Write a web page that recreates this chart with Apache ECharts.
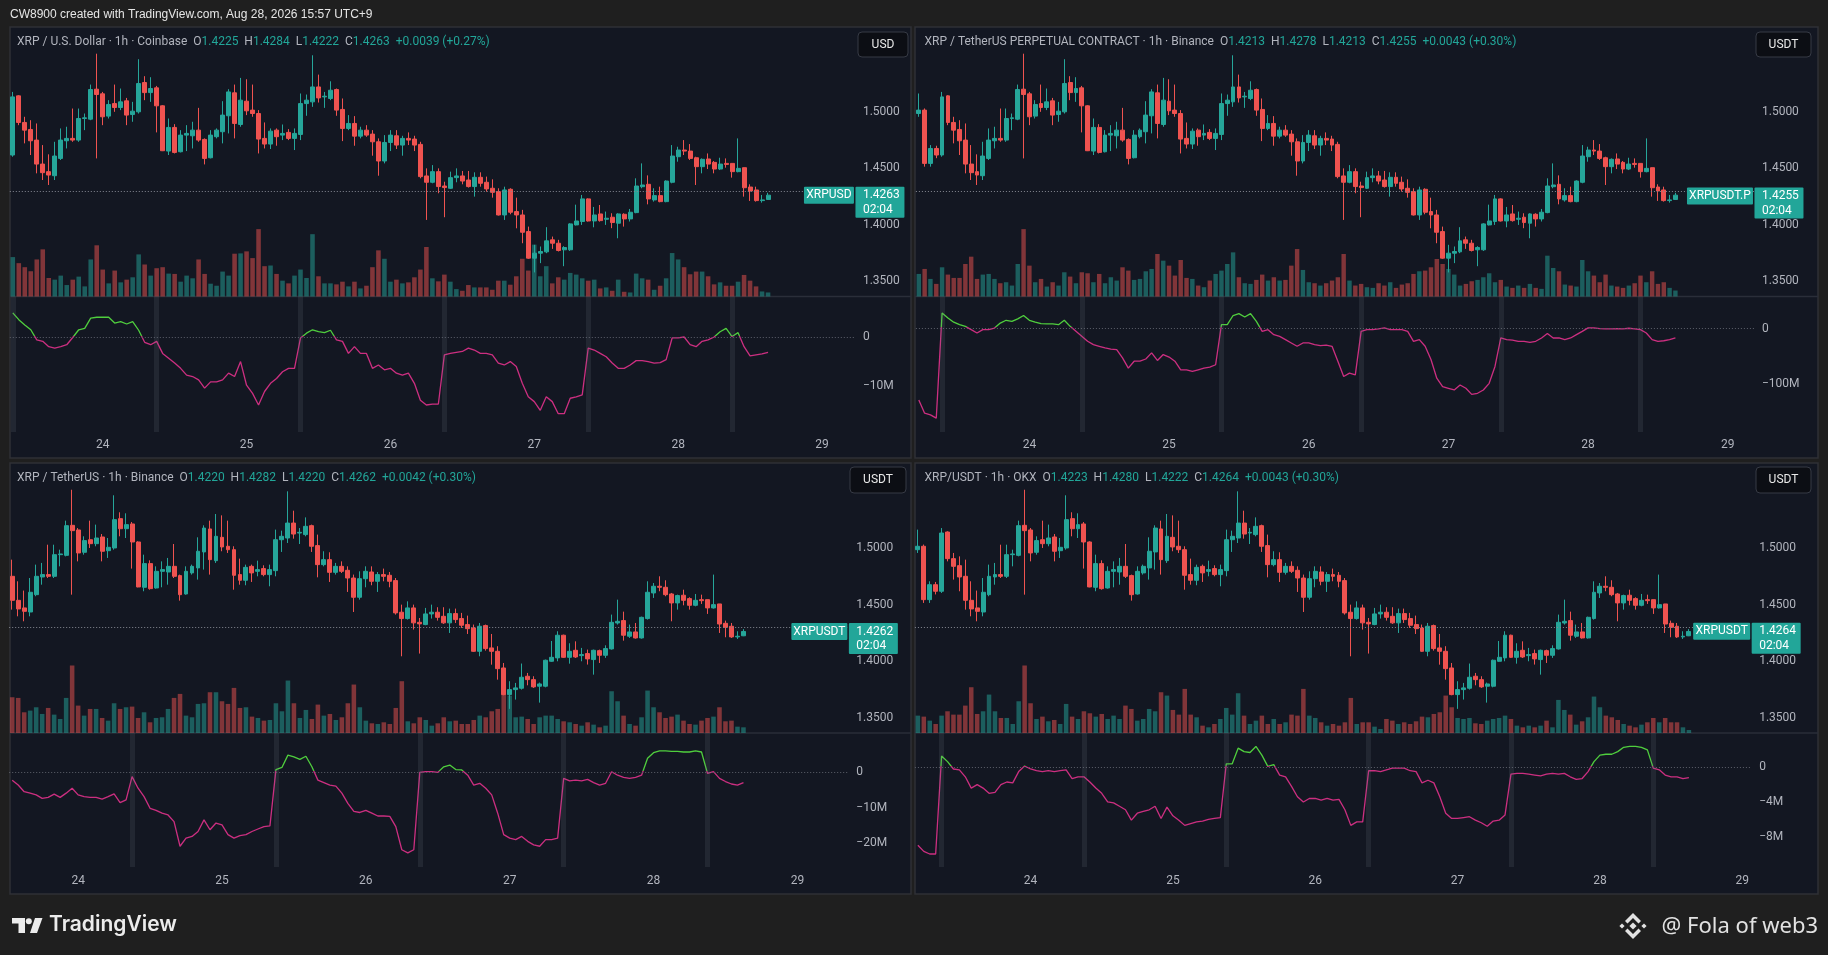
<!DOCTYPE html>
<html><head><meta charset="utf-8">
<style>html,body{margin:0;padding:0;background:#1f1f1f;overflow:hidden}#c{width:1828px;height:955px}</style>
<script src="https://cdn.jsdelivr.net/npm/echarts@6.0.0/dist/echarts.min.js"></script>
</head><body><div id="c"></div>
<script>
// ---------- DATA ----------
// hourly XRP candles [open, high, low, close] starting 2026-08-23 05:00 (UTC+9)
const ohlcStartHour = 5;
const ohlc = [
[1.4985,1.5162,1.4956,1.5015],[1.5015,1.5030,1.4515,1.4544],[1.4544,1.4706,1.4515,1.4676],[1.4676,1.4700,1.4590,1.4618],
[1.4618,1.5176,1.4603,1.5132],[1.5141,1.5147,1.4882,1.4906],[1.4906,1.4956,1.4721,1.4838],[1.4844,1.4926,1.4618,1.4744],
[1.4750,1.4897,1.4456,1.4538],[1.4538,1.4706,1.4397,1.4462],[1.4471,1.4624,1.4353,1.4441],[1.4435,1.4735,1.4397,1.4609],
[1.4588,1.4853,1.4574,1.4750],[1.4744,1.4868,1.4676,1.4765],[1.4765,1.5029,1.4735,1.4750],[1.4750,1.5029,1.4735,1.4941],
[1.4941,1.4985,1.4838,1.4947],[1.4935,1.5241,1.4926,1.5197],[1.5200,1.5514,1.4588,1.5153],[1.5159,1.5176,1.4882,1.4956],
[1.4962,1.5103,1.4941,1.5065],[1.5073,1.5241,1.5000,1.5038],[1.5038,1.5206,1.5015,1.5088],[1.5097,1.5123,1.4882,1.4971],
[1.4976,1.5088,1.4912,1.5006],[1.5000,1.5465,1.4985,1.5250],[1.5259,1.5315,1.5103,1.5170],[1.5170,1.5306,1.5088,1.5206],
[1.5212,1.5229,1.4818,1.5053],[1.5053,1.5059,1.4653,1.4656],[1.4653,1.4941,1.4618,1.4862],[1.4862,1.4891,1.4632,1.4641],
[1.4647,1.4838,1.4641,1.4794],[1.4794,1.4882,1.4653,1.4809],[1.4788,1.4912,1.4676,1.4838],[1.4838,1.5035,1.4735,1.4750],
[1.4756,1.4765,1.4535,1.4588],[1.4594,1.4838,1.4588,1.4794],[1.4780,1.4853,1.4765,1.4838],[1.4824,1.5094,1.4721,1.4971],
[1.4965,1.5200,1.4809,1.5176],[1.5168,1.5241,1.4765,1.4897],[1.4888,1.5300,1.4868,1.5103],[1.5094,1.5288,1.4971,1.5009],
[1.5015,1.5241,1.4956,1.4985],[1.4985,1.5015,1.4632,1.4759],[1.4765,1.4906,1.4676,1.4715],[1.4715,1.4853,1.4671,1.4829],
[1.4838,1.4853,1.4700,1.4780],[1.4794,1.4888,1.4750,1.4809],[1.4818,1.4847,1.4750,1.4765],[1.4765,1.4853,1.4662,1.4809],
[1.4800,1.5162,1.4750,1.5073],[1.5073,1.5153,1.4965,1.5103],[1.5088,1.5500,1.5044,1.5220],[1.5220,1.5329,1.5082,1.5123],
[1.5132,1.5176,1.5035,1.5138],[1.5118,1.5270,1.5103,1.5191],[1.5197,1.5206,1.4965,1.5015],[1.5021,1.5118,1.4741,1.4853],
[1.4853,1.4971,1.4838,1.4897],[1.4897,1.4962,1.4700,1.4785],[1.4785,1.4868,1.4765,1.4838],[1.4838,1.4882,1.4779,1.4794],
[1.4803,1.4838,1.4612,1.4735],[1.4735,1.4765,1.4435,1.4565],[1.4565,1.4794,1.4544,1.4729],[1.4729,1.4838,1.4653,1.4794],
[1.4788,1.4838,1.4671,1.4706],[1.4706,1.4788,1.4612,1.4765],[1.4765,1.4818,1.4706,1.4750],[1.4759,1.4788,1.4653,1.4706],
[1.4712,1.4735,1.4412,1.4427],[1.4433,1.4500,1.4044,1.4377],[1.4377,1.4529,1.4368,1.4471],[1.4471,1.4500,1.4280,1.4339],
[1.4344,1.4382,1.4068,1.4330],[1.4324,1.4471,1.4318,1.4418],[1.4418,1.4500,1.4377,1.4433],[1.4433,1.4477,1.4359,1.4388],
[1.4397,1.4477,1.4330,1.4339],[1.4339,1.4465,1.4250,1.4421],[1.4421,1.4465,1.4338,1.4368],[1.4377,1.4427,1.4294,1.4318],
[1.4324,1.4403,1.4241,1.4288],[1.4294,1.4324,1.4083,1.4088],[1.4088,1.4338,1.4044,1.4309],[1.4315,1.4324,1.4094,1.4112],
[1.4118,1.4241,1.3970,1.4088],[1.4088,1.4133,1.3838,1.3935],[1.3941,1.3985,1.3700,1.3706],[1.3706,1.3824,1.3580,1.3750],
[1.3750,1.3809,1.3662,1.3765],[1.3762,1.3980,1.3750,1.3859],[1.3868,1.3897,1.3788,1.3838],[1.3838,1.3868,1.3765,1.3774],
[1.3780,1.3812,1.3635,1.3800],[1.3780,1.4015,1.3770,1.4009],[1.4000,1.4179,1.3995,1.4035],[1.4030,1.4265,1.4000,1.4230],
[1.4230,1.4235,1.4030,1.4035],[1.4035,1.4159,1.3979,1.4088],[1.4097,1.4176,1.4029,1.4038],[1.4050,1.4118,1.4000,1.4059],
[1.4068,1.4103,1.3971,1.4021],[1.4015,1.4103,1.3882,1.4097],[1.4094,1.4103,1.3985,1.4053],[1.4053,1.4141,1.4030,1.4112],
[1.4109,1.4412,1.4103,1.4344],[1.4338,1.4544,1.4324,1.4353],[1.4359,1.4438,1.4182,1.4230],[1.4221,1.4324,1.4206,1.4259],
[1.4259,1.4338,1.4200,1.4206],[1.4206,1.4394,1.4200,1.4388],[1.4377,1.4706,1.4368,1.4609],[1.4603,1.4691,1.4559,1.4662],
[1.4662,1.4750,1.4618,1.4653],[1.4653,1.4715,1.4574,1.4588],[1.4594,1.4603,1.4353,1.4515],[1.4515,1.4588,1.4456,1.4580],
[1.4583,1.4632,1.4494,1.4538],[1.4553,1.4565,1.4456,1.4494],[1.4494,1.4594,1.4485,1.4538],[1.4544,1.4588,1.4506,1.4535],
[1.4544,1.4544,1.4418,1.4471],[1.4471,1.4765,1.4465,1.4500],[1.4506,1.4506,1.4250,1.4329],[1.4335,1.4359,1.4212,1.4300],
[1.4309,1.4338,1.4206,1.4215],[1.4215,1.4265,1.4197,1.4221],[1.4225,1.4284,1.4222,1.4263]
];
// first bar hour (on Aug 23) of each panel
const firstHour = [9, 5, 13, 5];
// volumes per panel (relative units)
const vol1 = [117,99,87,75,110,140,55,50,62,34,50,59,30,110,152,80,39,77,42,50,57,125,95,62,84,87,68,67,44,62,54,110,67,38,32,74,62,127,128,134,114,200,90,92,67,47,39,62,80,55,185,60,39,39,36,44,30,44,24,32,87,137,112,44,50,39,42,57,80,147,54,45,65,44,22,17,34,27,27,27,20,47,47,35,60,112,77,154,60,90,39,57,50,70,65,54,47,50,24,27,17,50,14,12,68,54,50,20,32,54,129,110,87,66,74,74,60,36,42,32,32,44,64,47,30,15,12];
const vol2 = [68,83,53,38,88,66,56,56,98,120,53,66,68,53,40,43,33,98,203,93,43,53,30,43,33,73,60,40,73,70,43,68,40,58,48,88,78,50,53,76,83,128,108,93,63,110,56,53,33,28,48,68,78,98,133,58,40,38,50,66,48,58,48,50,93,143,80,43,40,33,40,48,58,128,48,33,38,28,26,40,33,43,26,36,40,68,76,78,88,113,98,83,66,33,38,46,50,58,70,43,50,30,26,33,26,38,26,23,123,86,76,36,33,30,110,76,63,43,66,33,30,26,33,40,63,43,76,38,43,26,18];
const vol3 = [107,105,62,67,77,57,75,55,42,105,202,82,52,72,72,45,37,89,72,77,79,45,62,32,45,47,72,105,117,52,47,87,89,122,122,95,87,135,75,77,49,45,37,39,89,65,157,89,45,69,42,85,52,57,39,47,89,145,77,37,29,27,32,27,75,155,35,29,47,39,22,29,47,35,37,27,27,39,52,47,65,72,129,112,47,49,42,27,47,52,52,42,35,32,27,22,32,25,17,22,125,95,52,27,22,47,127,77,62,45,49,55,37,27,25,37,45,49,77,35,37,19,17];
const vol4 = [52,49,37,27,52,65,55,55,82,137,57,65,115,65,45,45,27,95,202,89,42,49,35,39,27,87,49,42,65,59,49,57,42,52,42,82,72,37,42,72,65,122,112,69,55,132,55,47,22,17,27,42,75,55,119,52,27,37,52,27,42,27,32,55,52,132,52,45,32,22,27,22,32,105,27,32,32,19,12,42,37,27,32,27,35,49,47,57,62,112,77,45,42,45,29,27,37,42,45,52,42,22,17,22,17,22,37,17,99,69,55,25,35,47,109,77,52,47,39,27,22,17,25,32,45,32,45,32,32,17,9];
// session cumulative volume delta per panel (millions)
const cvd1 = [5.1,3.7,2.6,1.6,-0.5,-0.8,-1.9,-2.2,-1.9,-1.5,0,1.6,1.9,4.0,4.2,4.2,4.2,3.0,3.3,2.8,3.3,1.5,-1.0,-1.5,-0.8,-3.3,-4.3,-5.3,-6.4,-7.8,-8.1,-8.8,-10.5,-9.2,-9.2,-8.8,-7.4,-8.1,-5.0,-9.9,-11.6,-14.0,-11.2,-9.5,-8.5,-7.1,-6.4,-6.4,-0.1,0.9,1.6,1.2,1.0,1.5,-0.5,-0.8,-3.3,-1.9,-3.3,-3.3,-6.4,-5.7,-6.7,-6.4,-7.4,-7.8,-7.4,-9.5,-13.0,-14.0,-13.8,-13.8,-3.6,-3.3,-3.1,-2.9,-2.2,-2.6,-3.3,-3.3,-3.6,-5.3,-5.7,-5.0,-6.0,-9.5,-12.3,-13.3,-15.1,-12.3,-13.3,-15.8,-15.8,-12.6,-12.3,-11.9,-2.2,-2.6,-3.3,-4.0,-5.3,-6.4,-6.4,-5.7,-4.8,-4.8,-5.0,-5.3,-5.2,-4.6,-0.1,-0.1,0.1,-1.5,-1.9,-0.8,-0.5,0.1,1.2,1.9,0.2,1.0,-1.9,-3.8,-3.6,-3.4,-3.1];
const cvd2 = [-129,-153,-156,-162,28,19,11.5,7,4,-2,-8,-2,-2,1,10,15,13,17.6,23.6,15,11.5,9,8.5,8.5,7,15,4,-5,-14,-23,-29,-32,-35,-37,-38,-53,-71.5,-59,-59,-55,-44,-57.6,-47,-51.5,-59,-74.5,-74.5,-77.6,-74.5,-71.5,-69.7,-65.4,7,7,23.6,27,21,27,13,-5,-2,-11,-14,-20,-26,-32,-26,-26,-29,-31,-30,-32,-59,-86.7,-80.6,-83.6,-5,-2,-2,-0.6,1.2,-2,-2,-2,-5,-23,-20,-32,-56,-89.7,-105,-108,-111,-102,-108,-119,-117,-111,-99,-68.5,-17,-20,-21,-23,-23,-25,-23,-17,-9,-17,-17,-20,-17,-11,-5,1.2,1.2,0,-0.6,-0.6,0,-0.6,0.6,-0.6,-2,-8,-20,-23,-22,-20,-17];
const cvd3 = [-2.2,-3.6,-5.5,-5.9,-6.4,-7.4,-7.1,-6.2,-7.1,-5.9,-4.5,-6.4,-6.9,-7.1,-7.1,-7.6,-6.9,-6.1,-8.6,-7.8,-1.2,-4.5,-6.9,-10.2,-10.8,-11.6,-12.1,-14.0,-21.0,-18.7,-18.2,-16.8,-13.5,-16.3,-14.4,-14.9,-17.7,-18.7,-18.0,-17.7,-16.8,-16.1,-15.4,-15.2,0.8,1.4,4.9,4.4,3.7,4.6,1.6,-2.2,-2.9,-3.6,-3.9,-5.9,-8.8,-11.1,-11.4,-10.8,-11.6,-12.4,-12.4,-12.5,-15.4,-22.0,-22.9,-22.0,0,0.2,0.2,0,1.6,2.1,0.8,0.7,-0.8,-3.6,-3.1,-4.5,-6.4,-11.6,-17.7,-18.7,-19.1,-18.2,-19.6,-20.6,-21.0,-19.1,-19.1,-18.7,-1.7,-2.4,-2.2,-2.4,-2.0,-2.9,-3.6,-3.1,0.2,-0.8,-1.4,-1.7,-1.4,-0.8,4.0,5.6,6.1,6.1,6.0,6.0,5.8,5.8,6.1,5.8,-0.3,0.2,-1.7,-2.6,-3.3,-3.6,-2.9];
const cvd4 = [-9.0,-9.7,-10.0,-10.0,1.3,0.65,-0.2,-0.3,-1.1,-2.4,-2.0,-2.4,-3.0,-2.9,-2.0,-1.7,-1.8,-0.5,0.15,-0.2,-0.4,-0.5,-0.4,-0.5,-0.4,-0.3,-1.3,-1.1,-1.1,-1.7,-2.4,-3.0,-4.0,-4.1,-4.5,-4.9,-6.1,-5.3,-5.1,-4.9,-4.5,-5.9,-4.6,-5.6,-6.1,-6.7,-6.5,-6.3,-6.2,-6.0,-5.9,-5.8,0.4,0.4,2.2,1.8,1.7,2.4,1.4,0.1,0.3,-0.9,-1.1,-2.2,-3.4,-4.0,-3.6,-3.6,-3.8,-3.6,-3.8,-3.7,-4.9,-6.7,-6.3,-6.3,-0.4,-0.4,-0.5,-0.3,-0.1,-0.1,-0.1,-0.4,-0.5,-1.8,-1.5,-1.8,-3.4,-5.3,-5.9,-5.9,-5.8,-5.7,-6.1,-6.4,-6.8,-6.2,-6.1,-5.5,-0.8,-0.7,-0.7,-0.8,-0.9,-1.0,-0.8,-0.7,-0.8,-0.7,-1.1,-1.4,-1.3,-0.5,0.65,1.4,1.5,1.5,1.8,2.3,2.4,2.4,2.3,2.0,-0.1,-0.3,-0.9,-1.1,-1.1,-1.3,-1.2];
const vols = [vol1, vol2, vol3, vol4];
const cvds = [cvd1, cvd2, cvd3, cvd4];
const priceTicks = [1.35, 1.40, 1.45, 1.50];
const cvdTicks = [[0,-10],[0,-100],[0,-10,-20],[0,-4,-8]];
const lastClose = [1.4263, 1.4255, 1.4262, 1.4264];
const headers = [
  {name:'XRP / U.S. Dollar · 1h · Coinbase', o:'1.4225', h:'1.4284', l:'1.4222', c:'1.4263', chg:'+0.0039 (+0.27%)', ccy:'USD', sym:'XRPUSD', timer:'02:04'},
  {name:'XRP / TetherUS PERPETUAL CONTRACT · 1h · Binance', o:'1.4213', h:'1.4278', l:'1.4213', c:'1.4255', chg:'+0.0043 (+0.30%)', ccy:'USDT', sym:'XRPUSDT.P', timer:'02:04'},
  {name:'XRP / TetherUS · 1h · Binance', o:'1.4220', h:'1.4282', l:'1.4220', c:'1.4262', chg:'+0.0042 (+0.30%)', ccy:'USDT', sym:'XRPUSDT', timer:'02:04'},
  {name:'XRP/USDT · 1h · OKX', o:'1.4223', h:'1.4280', l:'1.4222', c:'1.4264', chg:'+0.0043 (+0.30%)', ccy:'USDT', sym:'XRPUSDT', timer:'02:04'}
];
const pageTitle = 'CW8900 created with TradingView.com, Aug 28, 2026 15:57 UTC+9';
const brandLeft = 'TradingView';
const brandRight = '@ Fola of web3';

// ---------- LAYOUT ----------
const L = [
  {panel:[10,27,901,431], left:9.8,  catW:5.994, nCat:141, pTop:27,  pH:269.5, iTop:296.5, iH:135.5, cMin:-19.6, cMax:8.5,  symW:50, ccyBox:[858,32,50,25],  hx:17,    lblMargin:7},
  {panel:[915,27,903,431],left:915.9,catW:5.82,  nCat:144, pTop:27,  pH:269.5, iTop:296.5, iH:135.5, cMin:-187,  cMax:58,   symW:66, ccyBox:[1756,32,55,25], hx:924.5, lblMargin:7},
  {panel:[10,463,901,431],left:9.2,  catW:5.994, nCat:140, pTop:463, pH:270,   iTop:733,   iH:134,   cMin:-26.9, cMax:11.2, symW:56, ccyBox:[850,467,56,26], hx:17,    lblMargin:8},
  {panel:[915,463,903,431],left:914.9,catW:5.931,nCat:141, pTop:463, pH:270,   iTop:733,   iH:134,   cMin:-11.5, cMax:3.95, symW:57, ccyBox:[1756,467,55,26],hx:924.5, lblMargin:8}
];
const priceMin = 1.3367, priceMax = 1.5750;
const UP='#26a69a', DN='#ef5350', UPV='rgba(38,166,154,0.5)', DNV='rgba(239,83,80,0.5)';
const GREEN='#4fce3d', PINK='#cc2e80', TEAL='#22a699', AXC='#b2b5be', FONT='Roboto, "Liberation Sans", sans-serif';

function cats(p){
  const out=[];
  for(let k=0;k<L[p].nCat;k++){
    const h=firstHour[p]+k, d=23+Math.floor(h/24), hr=h%24;
    out.push(d+' '+String(hr).padStart(2,'0'));
  }
  return out;
}
// line colour: green above zero, pink below (gradient split at the zero level of the line's own extent)
function signGradient(arr){
  const mx=Math.max(...arr), mn=Math.min(...arr);
  const o = mx<=0 ? 0 : (mn>=0 ? 1 : mx/(mx-mn));
  return new echarts.graphic.LinearGradient(0,0,0,1,[
    {offset:0,color:GREEN},{offset:o,color:GREEN},{offset:o,color:PINK},{offset:1,color:PINK}]);
}

const grids=[], xAxes=[], yAxes=[], series=[];
for(let p=0;p<4;p++){
  const lay=L[p], c=cats(p), rows=ohlc.slice(firstHour[p]-ohlcStartHour), W=lay.nCat*lay.catW;
  grids.push({left:lay.left, top:lay.pTop, width:W, height:lay.pH});
  grids.push({left:lay.left, top:lay.iTop, width:W, height:lay.iH});
  xAxes.push({type:'category', gridIndex:2*p, data:c, axisLine:{show:false}, axisTick:{show:false}, axisLabel:{show:false}, splitLine:{show:false}});
  xAxes.push({type:'category', gridIndex:2*p+1, data:c, axisLine:{show:false}, axisTick:{show:false}, splitLine:{show:false},
    axisLabel:{interval:(i,v)=>v.endsWith(' 00'), formatter:v=>v.split(' ')[0], color:AXC, fontSize:12, fontFamily:FONT, margin:lay.lblMargin}});
  yAxes.push({type:'value', gridIndex:2*p, position:'right', min:priceMin, max:priceMax, splitLine:{show:false}, axisLine:{show:false}, axisTick:{show:false},
    axisLabel:{customValues:priceTicks, formatter:v=>v.toFixed(4), color:AXC, fontSize:12, fontFamily:FONT, margin:8}});
  yAxes.push({type:'value', gridIndex:2*p, min:0, max:Math.max(...vols[p])*4, show:false, splitLine:{show:false}});
  yAxes.push({type:'value', gridIndex:2*p+1, position:'right', min:lay.cMin, max:lay.cMax, splitLine:{show:false}, axisLine:{show:false}, axisTick:{show:false},
    axisLabel:{customValues:cvdTicks[p], formatter:v=>v===0?'0':'\u2212'+Math.abs(v)+'M', color:AXC, fontSize:12, fontFamily:FONT, margin:8}});
  series.push({type:'candlestick', xAxisIndex:2*p, yAxisIndex:3*p, z:3, barWidth:'74%',
    data:rows.map(r=>[r[0],r[3],r[2],r[1]]),
    itemStyle:{color:UP, color0:DN, borderColor:UP, borderColor0:DN, borderWidth:1},
    markLine:{silent:true, symbol:['none','none'], animation:false, label:{show:false},
      data:[{yAxis:lastClose[p], lineStyle:{type:[1,2], color:'#868993', width:1}}]}});
  series.push({type:'bar', xAxisIndex:2*p, yAxisIndex:3*p+1, z:1, barWidth:'76%',
    data:vols[p].map((v,i)=>({value:v, itemStyle:{color: rows[i][3]>=rows[i][0]?UPV:DNV}}))});
  const bands=c.filter((v,i)=>v.endsWith(' 09') && i<cvds[p].length);
  series.push({type:'line', xAxisIndex:2*p+1, yAxisIndex:3*p+2, z:3, data:cvds[p], showSymbol:false, symbol:'none',
    lineStyle:{width:1.3, color:signGradient(cvds[p])}, itemStyle:{color:PINK},
    markLine:{silent:true, symbol:['none','none'], animation:false, label:{show:false},
      data:[{yAxis:0, lineStyle:{type:[1,2], color:'#5d606b', width:1}}].concat(
        bands.map(b=>({xAxis:b, lineStyle:{type:'solid', color:'rgba(120,123,134,0.16)', width:5}})))}});
}

const chart = echarts.init(document.getElementById('c'), null, {renderer:'canvas', width:1828, height:955});
chart.setOption({
  backgroundColor:'#1f1f1f', animation:false,
  textStyle:{fontFamily:FONT},
  grid:grids, xAxis:xAxes, yAxis:yAxes, series:series
});

// ---------- GRAPHICS (backgrounds, headers, labels) ----------
const g=[];
for(let p=0;p<4;p++){
  const lay=L[p], [px,py,pw,ph]=lay.panel, h=headers[p];
  g.push({type:'rect', z:-10, shape:{x:px,y:py,width:pw,height:ph}, style:{fill:'#131722', stroke:'#2f3036', lineWidth:1.5}});
  g.push({type:'line', z:-5, shape:{x1:px,y1:lay.iTop,x2:px+pw,y2:lay.iTop}, style:{stroke:'#2a2e39', lineWidth:1.5}});
  g.push({type:'text', z:50, x:lay.hx, y:py+14.5, style:{
    text:'{n|'+h.name+'}  {n|O}{v|'+h.o+'}  {n|H}{v|'+h.h+'}  {n|L}{v|'+h.l+'}  {n|C}{v|'+h.c+'}  {v|'+h.chg+'}',
    verticalAlign:'middle', align:'left', fontSize:12, fontFamily:FONT,
    rich:{n:{fill:'#b2b5be', fontSize:12, fontFamily:FONT}, v:{fill:TEAL, fontSize:12, fontFamily:FONT}}}});
  const [bx,by,bw,bh]=lay.ccyBox;
  g.push({type:'rect', z:50, shape:{x:bx,y:by,width:bw,height:bh,r:4}, style:{fill:'#0c0e14', stroke:'#363a45', lineWidth:1}});
  g.push({type:'text', z:51, x:bx+bw/2, y:by+bh/2, style:{text:h.ccy, fill:'#e8e8e8', fontSize:12, fontFamily:FONT, align:'center', verticalAlign:'middle'}});
  const gr=lay.left+lay.nCat*lay.catW;
  const yy=chart.convertToPixel({yAxisIndex:3*p}, lastClose[p]);
  g.push({type:'rect', z:50, shape:{x:gr-1-lay.symW, y:yy-8.5, width:lay.symW, height:17, r:1}, style:{fill:TEAL}});
  g.push({type:'text', z:51, x:gr-1-lay.symW/2, y:yy, style:{text:h.sym, fill:'#ffffff', fontSize:12, fontFamily:FONT, align:'center', verticalAlign:'middle'}});
  g.push({type:'rect', z:50, shape:{x:gr+0.5, y:yy-8.5, width:49, height:31, r:1}, style:{fill:TEAL}});
  g.push({type:'text', z:51, x:gr+8, y:yy, style:{text:String(lastClose[p].toFixed(4)), fill:'#ffffff', fontSize:12, fontFamily:FONT, align:'left', verticalAlign:'middle'}});
  g.push({type:'text', z:51, x:gr+8, y:yy+14.5, style:{text:h.timer, fill:'#ffffff', fontSize:12, fontFamily:FONT, align:'left', verticalAlign:'middle'}});
}
g.push({type:'text', z:50, x:10, y:14.5, style:{text:pageTitle, fill:'#e6e6e6', fontSize:12, fontFamily:'"Liberation Sans", Arial, sans-serif', align:'left', verticalAlign:'middle'}});
// TradingView logo
g.push({type:'polygon', z:50, shape:{points:[[12,918],[25,918],[25,933],[18.5,933],[18.5,923.5],[12,923.5]]}, style:{fill:'#ececec'}});
g.push({type:'circle', z:50, shape:{cx:28.8,cy:921.2,r:3}, style:{fill:'#ececec'}});
g.push({type:'polygon', z:50, shape:{points:[[35,918],[42.5,918],[37,933],[30,933]]}, style:{fill:'#ececec'}});
g.push({type:'text', z:50, x:49, y:925, style:{text:brandLeft, fill:'#ececec', fontSize:21, fontWeight:600, fontFamily:'Inter, Roboto, sans-serif', align:'left', verticalAlign:'middle'}});
// Binance-style mark + signature
const bc=[1633,926];
const dia=(cx,cy,s)=>[[cx,cy-s],[cx+s,cy],[cx,cy+s],[cx-s,cy]];
g.push({type:'polygon', z:50, shape:{points:dia(bc[0],bc[1],3.6)}, style:{fill:'#e2e2e2'}});
g.push({type:'polygon', z:50, shape:{points:dia(bc[0]-11,bc[1],2.6)}, style:{fill:'#e2e2e2'}});
g.push({type:'polygon', z:50, shape:{points:dia(bc[0]+11,bc[1],2.6)}, style:{fill:'#e2e2e2'}});
g.push({type:'polygon', z:50, shape:{points:[[bc[0]-8,bc[1]-5],[bc[0],bc[1]-13],[bc[0]+8,bc[1]-5],[bc[0]+5.5,bc[1]-2.5],[bc[0],bc[1]-8],[bc[0]-5.5,bc[1]-2.5]]}, style:{fill:'#e2e2e2'}});
g.push({type:'polygon', z:50, shape:{points:[[bc[0]-8,bc[1]+5],[bc[0],bc[1]+13],[bc[0]+8,bc[1]+5],[bc[0]+5.5,bc[1]+2.5],[bc[0],bc[1]+8],[bc[0]-5.5,bc[1]+2.5]]}, style:{fill:'#e2e2e2'}});
g.push({type:'text', z:50, x:1818, y:927, style:{text:brandRight, fill:'#e2e2e2', fontSize:22, fontFamily:'"Noto Sans", sans-serif', align:'right', verticalAlign:'middle'}});
chart.setOption({graphic:g});
</script></body></html>
